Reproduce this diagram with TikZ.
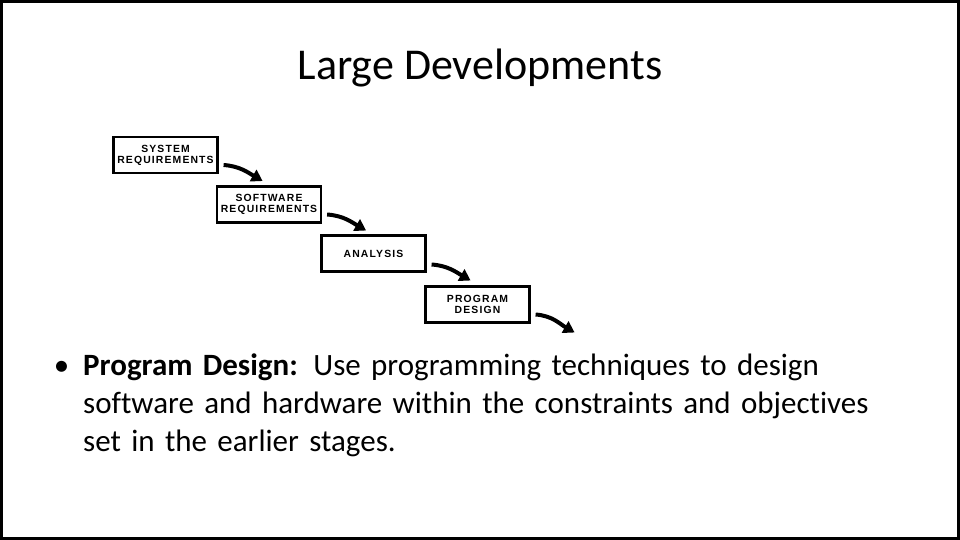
\documentclass[tikz,border=0pt]{standalone}
\usepackage{fontspec}
\setmainfont{Carlito}[Ligatures=NoCommon]
\newfontfamily\boxfont{Liberation Sans}[LetterSpace=11]
\usetikzlibrary{arrows.meta}
\begin{document}
\begin{tikzpicture}[x=1pt,y=-1pt,
  stage/.style={draw=black,line width=2.2pt,minimum width=104pt,minimum height=36pt,inner sep=0pt,
    align=center,font=\boxfont\bfseries\fontsize{10.4}{11}\selectfont,text=black},
  flow/.style={line width=4pt,-{Triangle[length=11pt,width=13pt]}}]
\useasboundingbox (0,0) rectangle (960,540);
\fill[white] (0,0) rectangle (960,540);
\draw[line width=3pt] (1.5,1.5) rectangle (958.5,538.5);
\node (title) at (480,68) {\fontsize{44}{52}\selectfont Large Developments};
\node[stage] (b1) at (165.5,155) {SYSTEM\\REQUIREMENTS};
\node[stage] (b2) at (269,204.5) {SOFTWARE\\REQUIREMENTS};
\node[stage] (b3) at (373.5,253.5) {ANALYSIS};
\node[stage] (b4) at (477.5,304.5) {PROGRAM\\DESIGN};
\coordinate (e1) at ([shift={(44,26)}]b1.east);
\coordinate (e2) at ([shift={(44,26)}]b2.east);
\coordinate (e3) at ([shift={(44,27)}]b3.east);
\coordinate (e4) at ([shift={(44,28)}]b4.east);
\draw[flow] ([shift={(5,10)}]b1.east) to[out=-4,in=150] (e1);
\draw[flow] ([shift={(5,10)}]b2.east) to[out=-4,in=150] (e2);
\draw[flow] ([shift={(5,11)}]b3.east) to[out=-4,in=150] (e3);
\draw[flow] ([shift={(5,10)}]b4.east) to[out=-4,in=150] (e4);
\node[anchor=north west,text width=860pt,align=left,inner sep=0pt,font=\fontsize{31}{38}\selectfont] (txt) at (83,354)
  {\llap{\textbullet\hspace{14pt}}\textbf{Program Design:} Use programming techniques to design\\
   software and hardware within the constraints and objectives\\
   set in the earlier stages.};
\end{tikzpicture}
\end{document}
